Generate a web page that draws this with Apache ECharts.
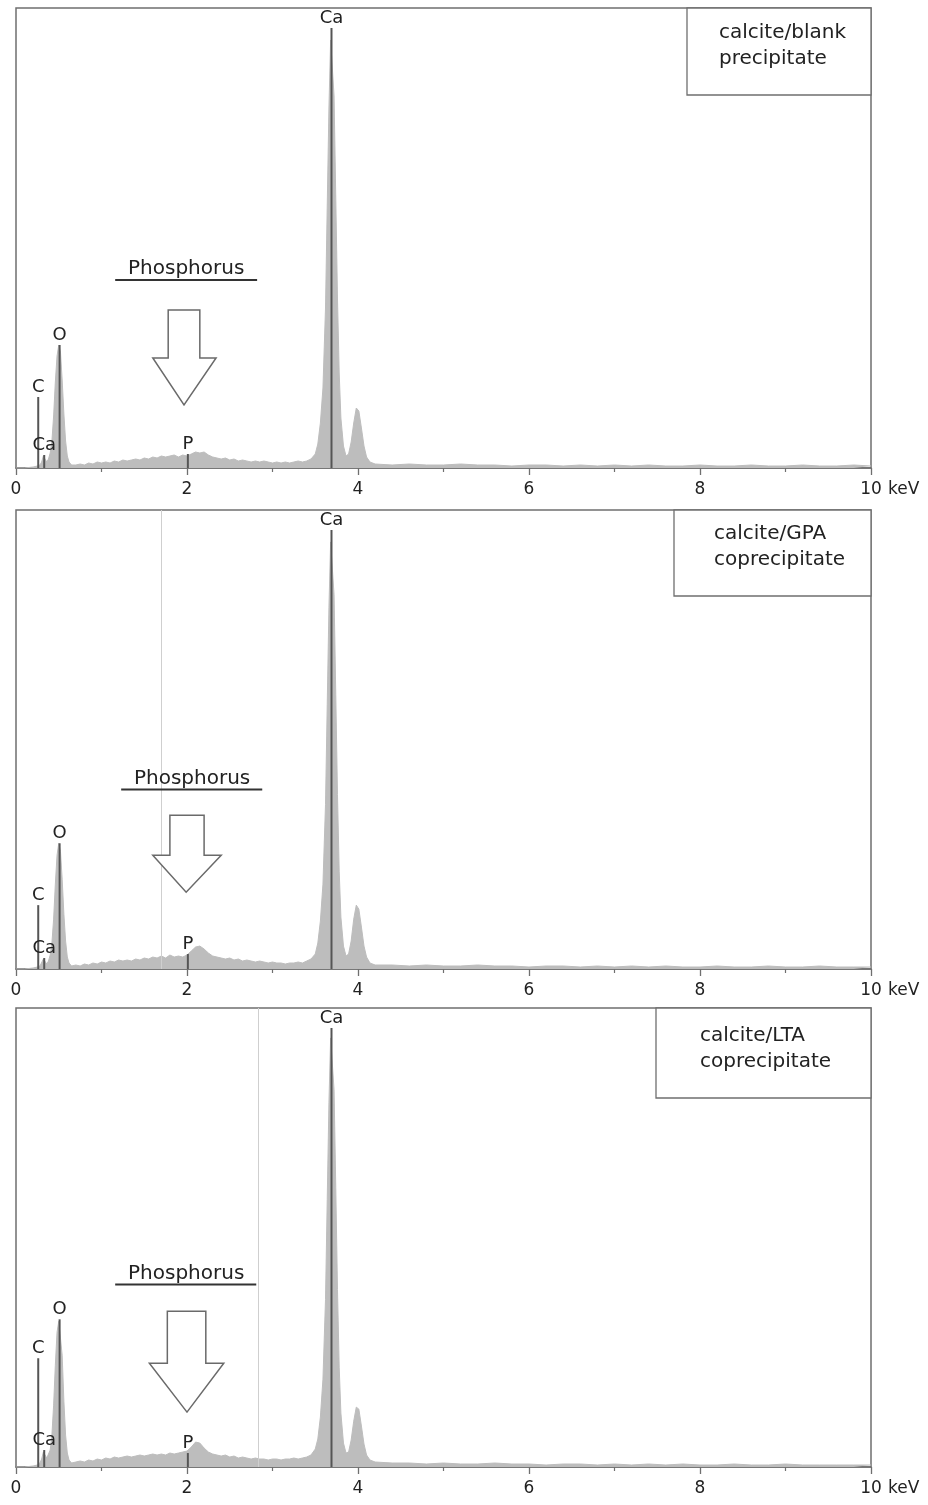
<!DOCTYPE html>
<html>
<head>
<meta charset="utf-8">
<script src="https://cdn.jsdelivr.net/npm/echarts@6/dist/echarts.min.js"></script>
<style>html,body{margin:0;padding:0;background:#fff}#c{width:928px;height:1505px}</style>
</head>
<body>
<div id="c"></div>
<script>
// ---------------- DATA ----------------
const xTickLabels = ['0', '2', '4', '6', '8', '10'];
const axisUnit = 'keV';

// spectra: [energy keV, counts]
const spectrumBlank = [
[0,0],[0.1,0],[0.2,1],[0.25,2],[0.28,3],[0.30,6],[0.32,12],[0.34,10],[0.36,6],[0.38,9],[0.40,15],[0.42,27],[0.44,52],[0.46,86],[0.48,112],[0.50,123],[0.52,116],[0.54,88],[0.56,54],[0.58,27],[0.60,12],[0.62,6],[0.65,3],
[0.70,3],[0.75,4],[0.80,3],[0.85,5],[0.90,4],[0.95,6],[1.00,5],[1.05,6],[1.10,5],[1.15,7],[1.20,6],[1.25,8],[1.30,7],[1.35,8],[1.40,9],[1.45,8],[1.50,10],[1.55,9],[1.60,11],[1.65,10],[1.70,12],[1.75,11],[1.80,12],[1.85,13],[1.90,11],[1.95,13],[2.00,12],[2.05,14],[2.10,16],[2.15,15],[2.20,16],[2.25,13],[2.30,11],[2.35,10],[2.40,9],[2.45,10],[2.50,8],[2.55,9],[2.60,7],[2.65,8],[2.70,7],[2.75,6],[2.80,7],[2.85,6],[2.90,7],[2.95,6],[3.00,5],[3.05,6],[3.10,5],[3.15,6],[3.20,5],[3.25,6],[3.30,7],[3.35,6],[3.40,7],[3.45,9],
[3.50,14],[3.53,24],[3.56,45],[3.59,80],[3.62,160],[3.64,262],[3.66,360],[3.68,428],[3.70,430],[3.72,372],[3.74,270],[3.76,170],[3.78,95],[3.80,50],[3.83,22],[3.86,12],[3.89,14],[3.92,26],[3.95,45],[3.98,60],[4.01,57],[4.04,40],[4.07,22],[4.10,11],[4.14,6],
[4.2,4],[4.4,3],[4.6,4],[4.8,3],[5.0,3],[5.2,4],[5.4,3],[5.6,3],[5.8,2],[6.0,3],[6.2,3],[6.4,2],[6.6,3],[6.8,2],[7.0,3],[7.2,2],[7.4,3],[7.6,2],[7.8,2],[8.0,3],[8.2,2],[8.4,2],[8.6,3],[8.8,2],[9.0,2],[9.2,3],[9.4,2],[9.6,2],[9.8,3],[10.0,2]
];
const spectrumGPA = [
[0,0],[0.1,0],[0.2,1],[0.25,2],[0.28,3],[0.30,5],[0.32,10],[0.34,8],[0.36,5],[0.38,8],[0.40,14],[0.42,26],[0.44,50],[0.46,85],[0.48,114],[0.50,126],[0.52,118],[0.54,90],[0.56,55],[0.58,28],[0.60,12],[0.62,6],[0.65,3],
[0.70,4],[0.75,3],[0.80,5],[0.85,4],[0.90,6],[0.95,5],[1.00,7],[1.05,6],[1.10,8],[1.15,7],[1.20,9],[1.25,8],[1.30,9],[1.35,8],[1.40,10],[1.45,9],[1.50,11],[1.55,10],[1.60,12],[1.65,11],[1.70,13],[1.75,11],[1.80,14],[1.85,12],[1.90,13],[1.95,12],[2.00,14],[2.05,18],[2.10,22],[2.15,23],[2.20,20],[2.25,16],[2.30,13],[2.35,12],[2.40,11],[2.45,10],[2.50,11],[2.55,9],[2.60,10],[2.65,8],[2.70,9],[2.75,8],[2.80,7],[2.85,8],[2.90,7],[2.95,6],[3.00,7],[3.05,6],[3.10,6],[3.15,5],[3.20,6],[3.25,6],[3.30,7],[3.35,6],[3.40,8],[3.45,10],
[3.50,15],[3.53,26],[3.56,48],[3.59,85],[3.62,165],[3.64,265],[3.66,362],[3.68,428],[3.70,430],[3.72,375],[3.74,275],[3.76,175],[3.78,98],[3.80,52],[3.83,23],[3.86,13],[3.89,15],[3.92,28],[3.95,50],[3.98,64],[4.01,60],[4.04,42],[4.07,23],[4.10,12],[4.14,6],
[4.2,4],[4.4,4],[4.6,3],[4.8,4],[5.0,3],[5.2,3],[5.4,4],[5.6,3],[5.8,3],[6.0,2],[6.2,3],[6.4,3],[6.6,2],[6.8,3],[7.0,2],[7.2,3],[7.4,2],[7.6,3],[7.8,2],[8.0,2],[8.2,3],[8.4,2],[8.6,2],[8.8,3],[9.0,2],[9.2,2],[9.4,3],[9.6,2],[9.8,2],[10.0,2]
];
const spectrumLTA = [
[0,0],[0.1,0],[0.2,1],[0.25,2],[0.28,4],[0.30,8],[0.32,15],[0.34,17],[0.36,9],[0.38,10],[0.40,17],[0.42,32],[0.44,62],[0.46,102],[0.48,135],[0.50,146],[0.52,148],[0.54,112],[0.56,66],[0.58,32],[0.60,14],[0.62,7],[0.65,4],
[0.70,5],[0.75,6],[0.80,5],[0.85,7],[0.90,6],[0.95,8],[1.00,7],[1.05,9],[1.10,8],[1.15,10],[1.20,9],[1.25,10],[1.30,11],[1.35,10],[1.40,11],[1.45,12],[1.50,11],[1.55,12],[1.60,13],[1.65,12],[1.70,13],[1.75,12],[1.80,14],[1.85,13],[1.90,14],[1.95,15],[2.00,16],[2.05,20],[2.10,25],[2.15,24],[2.20,19],[2.25,15],[2.30,13],[2.35,12],[2.40,11],[2.45,12],[2.50,10],[2.55,11],[2.60,9],[2.65,10],[2.70,9],[2.75,8],[2.80,9],[2.85,8],[2.90,8],[2.95,7],[3.00,8],[3.05,8],[3.10,7],[3.15,8],[3.20,8],[3.25,9],[3.30,8],[3.35,9],[3.40,10],[3.45,12],
[3.50,18],[3.53,28],[3.56,50],[3.59,88],[3.62,168],[3.64,268],[3.66,365],[3.68,430],[3.70,432],[3.72,378],[3.74,280],[3.76,178],[3.78,100],[3.80,54],[3.83,24],[3.86,14],[3.89,15],[3.92,27],[3.95,46],[3.98,60],[4.01,58],[4.04,41],[4.07,23],[4.10,12],[4.14,7],
[4.2,5],[4.4,4],[4.6,4],[4.8,3],[5.0,4],[5.2,3],[5.4,3],[5.6,4],[5.8,3],[6.0,3],[6.2,2],[6.4,3],[6.6,3],[6.8,2],[7.0,3],[7.2,2],[7.4,3],[7.6,2],[7.8,3],[8.0,2],[8.2,2],[8.4,3],[8.6,2],[8.8,2],[9.0,3],[9.2,2],[9.4,2],[9.6,2],[9.8,2],[10.0,2]
];

// element marker lines (keV, label) and their heights per panel
const markerKeV = [0.26, 0.33, 0.51, 2.01, 3.69];
const markerNames = ['C', 'Ca', 'O', 'P', 'Ca'];
const markerBlank = [71, 13, 123, 14, 440];
const markerGPA = [64, 11, 126, 15, 440];
const markerLTA = [109, 17, 148, 14, 440];

// thin reference line (keV) per panel
const refLineGPA = [1.70];
const refLineLTA = [2.83];

const annotationText = 'Phosphorus';
const panelLabels = [['calcite/blank', 'precipitate'], ['calcite/GPA', 'coprecipitate'], ['calcite/LTA', 'coprecipitate']];

// ---------------- CHART ----------------
const FONT = '"DejaVu Sans", "Liberation Sans", Arial, sans-serif';
const AXIS_C = '#6f6f6f';
const FILL_C = '#bdbdbd';
const MARK_C = '#555555';
const TEXT_C = '#222222';

const spectra = [spectrumBlank, spectrumGPA, spectrumLTA];
const markerHeights = [markerBlank, markerGPA, markerLTA];
const refLines = [[], refLineGPA, refLineLTA];

const layout = [
  { top: 8, height: 460, box: { x: 687, y: 8, w: 184, h: 87, tx: 719, ty: 20 },
    ann: { text: [1.99, 199], line: [1.16, 2.82, 188], shaft: [1.78, 2.15], top: 158, headY: 110, head: [1.60, 2.34], tip: [1.965, 63] } },
  { top: 510, height: 459, box: { x: 674, y: 510, w: 197, h: 86, tx: 714, ty: 521 },
    ann: { text: [2.06, 191], line: [1.23, 2.88, 180], shaft: [1.80, 2.20], top: 154, headY: 114, head: [1.60, 2.40], tip: [1.99, 77] } },
  { top: 1008, height: 459, box: { x: 656, y: 1008, w: 215, h: 90, tx: 700, ty: 1023 },
    ann: { text: [1.99, 194], line: [1.16, 2.81, 183], shaft: [1.77, 2.22], top: 156, headY: 104, head: [1.56, 2.43], tip: [2.00, 55] } }
];

const grids = [], xAxes = [], yAxes = [], series = [], graphics = [];

layout.forEach(function (L, i) {
  grids.push({ left: 16, right: 57, top: L.top, height: L.height, show: true,
    borderColor: AXIS_C, borderWidth: 1.5, backgroundColor: 'transparent' });
  xAxes.push({
    type: 'value', gridIndex: i, min: 0, max: 10, interval: 2,
    axisLine: { show: true, onZero: false, lineStyle: { color: AXIS_C, width: 1.5 } },
    axisTick: { show: true, length: 7, lineStyle: { color: AXIS_C, width: 1.3 } },
    minorTick: { show: true, splitNumber: 2, length: 4, lineStyle: { color: AXIS_C, width: 1.2 } },
    splitLine: { show: false }, minorSplitLine: { show: false },
    axisLabel: { fontSize: 17, fontFamily: FONT, color: TEXT_C, margin: 13,
      formatter: function (v) { return xTickLabels[Math.round(v / 2)]; } },
    name: axisUnit, nameLocation: 'end', nameGap: 17,
    nameTextStyle: { fontSize: 17, fontFamily: FONT, color: TEXT_C, verticalAlign: 'top', padding: [13, 0, 0, 0] }
  });
  yAxes.push({ type: 'value', gridIndex: i, min: 0, max: 460, show: false });

  series.push({
    type: 'line', xAxisIndex: i, yAxisIndex: i, data: spectra[i], symbol: 'none', silent: true,
    lineStyle: { color: FILL_C, width: 1 }, areaStyle: { color: FILL_C, opacity: 1 }, z: 2,
    markLine: refLines[i].length ? {
      silent: true, symbol: 'none', label: { show: false },
      lineStyle: { color: '#cfcfcf', width: 1, type: 'solid' },
      data: refLines[i].map(function (v) { return { xAxis: v }; })
    } : undefined
  });

  const mh = markerHeights[i];
  series.push({
    type: 'custom', xAxisIndex: i, yAxisIndex: i, z: 5, silent: true,
    data: markerKeV.map(function (k, j) { return [k, mh[j]]; }),
    renderItem: function (params, api) {
      const b = api.coord([api.value(0), 0]);
      const t = api.coord([api.value(0), api.value(1)]);
      return { type: 'group', children: [
        { type: 'line', shape: { x1: b[0], y1: b[1], x2: t[0], y2: t[1] }, style: { stroke: MARK_C, lineWidth: 2 } },
        { type: 'text', style: { text: markerNames[params.dataIndex], x: t[0], y: t[1] - 1, align: 'center', verticalAlign: 'bottom',
          fontSize: 18, fontFamily: FONT, fill: TEXT_C } }
      ] };
    }
  });

  const A = L.ann;
  series.push({
    type: 'custom', xAxisIndex: i, yAxisIndex: i, z: 6, silent: true,
    data: [[A.text[0], A.text[1]]],
    renderItem: function (params, api) {
      const c = function (x, y) { return api.coord([x, y]); };
      const tp = c(A.text[0], A.text[1]);
      const l1 = c(A.line[0], A.line[2]), l2 = c(A.line[1], A.line[2]);
      const pts = [
        c(A.shaft[0], A.top), c(A.shaft[1], A.top), c(A.shaft[1], A.headY), c(A.head[1], A.headY),
        c(A.tip[0], A.tip[1]), c(A.head[0], A.headY), c(A.shaft[0], A.headY)
      ];
      return { type: 'group', children: [
        { type: 'text', style: { text: annotationText, x: tp[0], y: tp[1], align: 'center', verticalAlign: 'middle',
          fontSize: 20, fontFamily: FONT, fill: TEXT_C } },
        { type: 'line', shape: { x1: l1[0], y1: l1[1], x2: l2[0], y2: l2[1] }, style: { stroke: '#333', lineWidth: 2 } },
        { type: 'polygon', shape: { points: pts }, style: { fill: '#fff', stroke: '#6a6a6a', lineWidth: 1.5 } }
      ] };
    }
  });

  graphics.push({ type: 'rect', shape: { x: L.box.x, y: L.box.y, width: L.box.w, height: L.box.h },
    style: { fill: '#fff', stroke: AXIS_C, lineWidth: 1.3 }, z: 10 });
  graphics.push({ type: 'text', x: L.box.tx, y: L.box.ty, z: 11,
    style: { text: panelLabels[i].join('\n'), fontSize: 20, fontFamily: FONT, fill: TEXT_C, lineHeight: 26, verticalAlign: 'top' } });
});

const chart = echarts.init(document.getElementById('c'), null, { renderer: 'canvas' });
chart.setOption({
  animation: false,
  backgroundColor: '#fff',
  grid: grids, xAxis: xAxes, yAxis: yAxes, series: series, graphic: graphics
});
</script>
</body>
</html>
